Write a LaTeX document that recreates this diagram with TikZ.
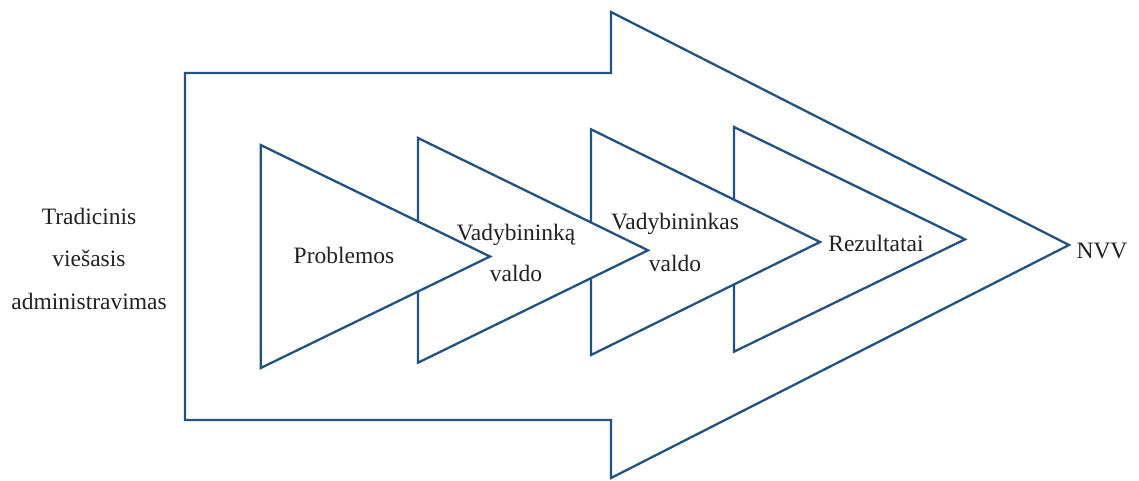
\documentclass[tikz,border=0pt]{standalone}
\usepackage{fontspec}
\setmainfont{Liberation Serif}
\definecolor{edge}{RGB}{36,82,128}
\definecolor{ink}{RGB}{34,34,34}
\tikzset{
  outline/.style={draw=edge, line width=2.3pt, line join=miter, fill=white},
  lbl/.style={anchor=base, inner sep=0pt, text=ink, font=\fontsize{23.5}{28}\selectfont}
}
\begin{document}
\begin{tikzpicture}[x=1pt,y=-1pt]
\useasboundingbox (0,0) rectangle (1139,480);
% big arrow
\draw[outline] (185,73) -- (611,73) -- (611,12) -- (1069,245) -- (611,478) -- (611,420) -- (185,420) -- cycle;
% inner arrows, back to front
\draw[outline] (734,127) -- (965,239.3) -- (734,351.7) -- cycle;
\draw[outline] (591,129.3) -- (820,242) -- (591,355) -- cycle;
\draw[outline] (418,138) -- (648,250.3) -- (418,362.7) -- cycle;
\draw[outline] (260.7,145) -- (490,256.5) -- (260.7,368) -- cycle;
% labels
\node[lbl] (t1) at (89,224.7) {Tradicinis};
\node[lbl] (t2) at (89,266) {viešasis};
\node[lbl] (t3) at (89,309.7) {administravimas};
\node[lbl] (p) at (344,263) {Problemos};
\node[lbl] (v1) at (516,240) {Vadybininką};
\node[lbl] (v2) at (516,281) {valdo};
\node[lbl] (w1) at (675,229.7) {Vadybininkas};
\node[lbl] (w2) at (675,271) {valdo};
\node[lbl] (r) at (876,251.3) {Rezultatai};
\node[lbl] (n) at (1102,258) {NVV};
\end{tikzpicture}
\end{document}
